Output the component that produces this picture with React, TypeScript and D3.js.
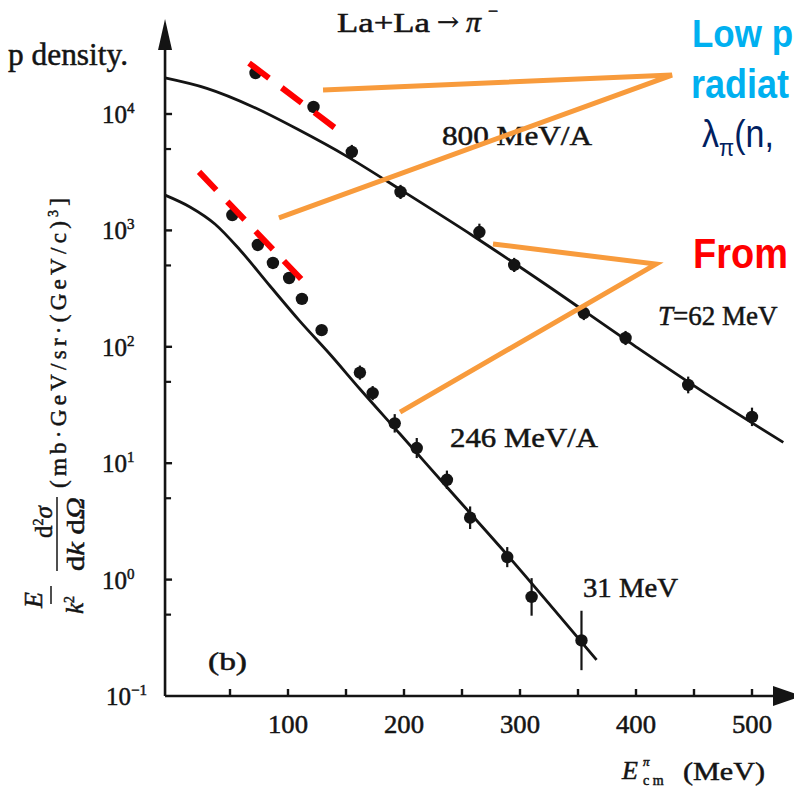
import React from 'react';
import * as d3 from 'd3';

// ---- data ----
const upperE = [72, 122, 155, 197, 265, 295, 355, 391, 445, 500];
const upperVal = [22500, 11500, 4720, 2140, 968, 505, 195, 119, 47, 25];
const upperErr = [1, 1, 1.15, 1.15, 1.18, 1.15, 1.15, 1.15, 1.18, 1.2];

const lowerE = [52, 74, 87, 101, 112, 129, 162, 173, 192, 211, 237, 257, 289, 310, 353];
const lowerVal = [1355, 750, 525, 390, 258, 139, 60, 40, 22, 13.5, 7.2, 3.4, 1.56, 0.71, 0.3];
const lowerErr = [1, 1, 1, 1, 1, 1, 1.15, 1.15, 1.2, 1.22, 1.2, 1.25, 1.22, 1.45, 1.8];

const upperFitE = [-6, 30, 70, 110, 150, 200, 260, 320, 400, 460, 527];
const upperFitVal = [20400, 16600, 11500, 7240, 4370, 2140, 891, 355, 100, 39.8, 15.1];
const lowerFitE = [-6, 15.5, 37, 58.6, 84.5, 110, 136, 162, 196.6, 240, 283, 366];
const lowerFitVal = [2010, 1590, 1135, 679, 333, 167, 86.7, 43.4, 17.8, 5.77, 1.905, 0.204];

const xTicks = [50, 100, 150, 200, 250, 300, 350, 400, 450, 500];
const xTickLabels = [100, 200, 300, 400, 500];
const yMajor = [1e4, 1e3, 1e2, 1e1, 1, 0.1];
const yExp = ['4', '3', '2', '1', '0', '−1'];
const yMinor = [5e3, 5e2, 5e1, 5, 0.5];

// annotation guides (E, value)
const redUpper = [[66.4, 27400], [140.5, 7590]];
const redLower = [[23.3, 3180], [112.1, 375]];
const orangeUpper = [[130.2, 16070], [431, 21600], [92.2, 1280]];
const orangeLower = [[276.7, 764], [417.2, 514], [196.6, 27.5]];

const serif = '"Liberation Serif", "Times New Roman", serif';
const sans = '"Liberation Sans", Arial, sans-serif';

export default function App() {
  const W = 794, H = 788;
  const xs = d3.scaleLinear().domain([0, 500]).range([172, 752]);
  const ys = d3.scaleLog().domain([0.1, 1e4]).range([696, 114]);
  const x0 = xs(-6);
  const yBase = ys(0.1);

  const line = d3
    .line<[number, number]>()
    .x((d) => xs(d[0]))
    .y((d) => ys(d[1]))
    .curve(d3.curveMonotoneX);
  const straight = d3
    .line<number[]>()
    .x((d) => xs(d[0]))
    .y((d) => ys(d[1]));

  const upperFit = upperFitE.map((e, i) => [e, upperFitVal[i]] as [number, number]);
  const lowerFit = lowerFitE.map((e, i) => [e, lowerFitVal[i]] as [number, number]);

  const ink = '#141414';
  const orange = '#f89b3c';
  const bold = { stroke: ink, strokeWidth: 0.5 } as any;

  const renderPoints = (E: number[], V: number[], Er: number[]) =>
    E.map((e, i) => (
      <g key={i}>
        {Er[i] > 1 && (
          <line
            x1={xs(e)}
            x2={xs(e)}
            y1={ys(V[i] * Er[i])}
            y2={ys(V[i] / Er[i])}
            stroke={ink}
            strokeWidth={2.2}
          />
        )}
        <circle cx={xs(e)} cy={ys(V[i])} r={6.2} fill={ink} />
      </g>
    ));

  return (
    <div style={{ position: 'absolute', left: 0, top: 0 }}>
      <svg width={W} height={H} style={{ display: 'block', background: '#fff' }}>
        {/* caption fragment */}
        <text x={8} y={65} fontFamily={serif} fontSize={32} fill={ink} textLength={120} lengthAdjust="spacingAndGlyphs" {...bold}>
          p density.
        </text>

        {/* title */}
        <g {...bold} fill={ink} fontFamily={serif}>
          <text x={337} y={32} fontSize={28} textLength={93} lengthAdjust="spacingAndGlyphs">
            La+La
          </text>
          <text x={437} y={30} fontSize={24} fontFamily='"DejaVu Serif", serif' textLength={22} lengthAdjust="spacingAndGlyphs">→</text>
          <text x={466} y={32} fontSize={30} fontStyle="italic">π</text>
          <text x={488} y={17} fontSize={18}>−</text>
        </g>

        {/* axes */}
        <line x1={x0} x2={x0} y1={yBase} y2={40} stroke={ink} strokeWidth={2.6} />
        <polygon points={`${x0},19 ${x0 - 7},50 ${x0 + 7},50`} fill={ink} />
        <line x1={x0} x2={780} y1={yBase} y2={yBase} stroke={ink} strokeWidth={2.6} />
        <polygon points={`773,${yBase - 10} 773,${yBase + 10} 802,${yBase}`} fill={ink} />

        {yMajor.slice(0, 5).map((v) => (
          <line key={'ym' + v} x1={x0} x2={x0 + 7} y1={ys(v)} y2={ys(v)} stroke={ink} strokeWidth={2.4} />
        ))}
        {yMinor.map((v) => (
          <line key={'yn' + v} x1={x0} x2={x0 + 6} y1={ys(v)} y2={ys(v)} stroke={ink} strokeWidth={2.2} />
        ))}
        {yMajor.map((v, i) => (
          <text key={'yl' + v} x={i === 5 ? 106 : 102} y={ys(v) + 9} fontFamily={serif} fontSize={25} fill={ink} {...bold}>
            10
            <tspan dy={-10} fontSize={15}>{yExp[i]}</tspan>
          </text>
        ))}

        {xTicks.map((v) => (
          <line key={'xt' + v} x1={xs(v)} x2={xs(v)} y1={yBase} y2={yBase - 7} stroke={ink} strokeWidth={2.4} />
        ))}
        {xTickLabels.map((v) => (
          <text key={'xl' + v} x={xs(v)} y={733} fontFamily={serif} fontSize={25} textAnchor="middle" fill={ink} textLength={40} lengthAdjust="spacingAndGlyphs" {...bold}>
            {v}
          </text>
        ))}

        {/* x-axis title */}
        <g fontFamily={serif} fill={ink} {...bold}>
          <text x={622} y={779} fontSize={26} fontStyle="italic">E</text>
          <text x={643} y={766} fontSize={13} fontStyle="italic">π</text>
          <text x={643} y={785} fontSize={14}>c m</text>
          <text x={683} y={780} fontSize={26} textLength={82} lengthAdjust="spacingAndGlyphs">
            (MeV)
          </text>
        </g>

        {/* y-axis title (rotated) */}
        <g transform="rotate(-90)" fontFamily={serif} fill={ink} {...bold}>
          <text x={-608} y={42} fontSize={26} fontStyle="italic">E</text>
          <line x1={-604} x2={-586} y1={51} y2={51} stroke={ink} strokeWidth={1.5} />
          <text x={-614} y={83} fontSize={25} fontStyle="italic">
            k<tspan dy={-9} fontSize={14} fontStyle="normal">2</tspan>
          </text>
          <text x={-538} y={52} fontSize={25}>
            d<tspan dy={-9} fontSize={14}>2</tspan>
            <tspan dy={9} fontStyle="italic">σ</tspan>
          </text>
          <line x1={-571} x2={-497} y1={57} y2={57} stroke={ink} strokeWidth={1.5} />
          <text x={-571} y={84} fontSize={25} textLength={74} lengthAdjust="spacingAndGlyphs">
            d<tspan fontStyle="italic">k</tspan> d<tspan fontStyle="italic">Ω</tspan>
          </text>
          <text x={-488} y={66} fontSize={23} textLength={290} lengthAdjust="spacing">
            (mb·GeV/sr·(GeV/c)<tspan dy={-8} fontSize={14}>3</tspan>
            <tspan dy={8}>]</tspan>
          </text>
        </g>

        {/* fit curves */}
        <path d={line(upperFit) || ''} fill="none" stroke={ink} strokeWidth={2.8} />
        <path d={line(lowerFit) || ''} fill="none" stroke={ink} strokeWidth={2.8} />

        {/* data points */}
        {renderPoints(upperE, upperVal, upperErr)}
        {renderPoints(lowerE, lowerVal, lowerErr)}

        {/* curve labels */}
        <g fontFamily={serif} fontSize={27} fill={ink} {...bold}>
          <text x={442} y={145} textLength={150} lengthAdjust="spacingAndGlyphs">
            800 MeV/A
          </text>
          <text x={450} y={447} textLength={148} lengthAdjust="spacingAndGlyphs">
            246 MeV/A
          </text>
          <text x={583} y={597} textLength={95} lengthAdjust="spacingAndGlyphs">
            31 MeV
          </text>
          <text x={658} y={325}>
            <tspan fontStyle="italic">T</tspan>=62 MeV
          </text>
          <text x={208} y={670} fontSize={26} textLength={39} lengthAdjust="spacingAndGlyphs">
            (b)
          </text>
        </g>

        {/* red dashed guides */}
        <path d={straight(redUpper) || ''} stroke="#ff0000" strokeWidth={6} strokeDasharray="25 16" fill="none" />
        <path d={straight(redLower) || ''} stroke="#ff0000" strokeWidth={6} strokeDasharray="25 16" fill="none" />

        {/* orange callouts */}
        <path d={straight(orangeUpper) || ''} stroke={orange} strokeWidth={5} fill="none" strokeLinejoin="miter" />
        <path d={straight(orangeLower) || ''} stroke={orange} strokeWidth={5} fill="none" strokeLinejoin="miter" />

        {/* callout texts (cut by the right edge in the original) */}
        <g transform="translate(692,47) scale(1,1.12)">
          <text x={0} y={0} fontFamily={sans} fontWeight="bold" fontSize={35} fill="#00b0f0">
            Low p
          </text>
        </g>
        <g transform="translate(691,98) scale(1,1.12)">
          <text x={0} y={0} fontFamily={sans} fontWeight="bold" fontSize={36} fill="#00b0f0">
            radiat
          </text>
        </g>
        <g transform="translate(702,147) scale(1,1.12)">
          <text x={0} y={0} fontFamily={sans} fontSize={34} fill="#002060">
            λ<tspan dy={8} fontSize={22}>π</tspan>
            <tspan dy={-8}>(n,</tspan>
          </text>
        </g>
        <g transform="translate(693,268) scale(1,1.12)">
          <text x={0} y={0} fontFamily={sans} fontWeight="bold" fontSize={38} fill="#ff0000">
            From
          </text>
        </g>
      </svg>
    </div>
  );
}
